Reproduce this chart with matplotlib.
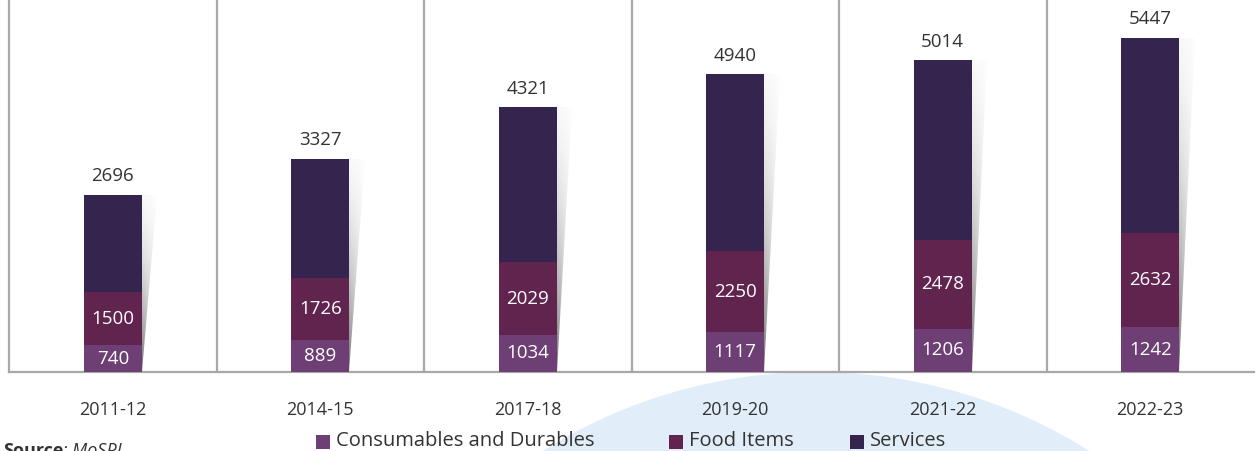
import numpy as np
import matplotlib.pyplot as plt
from matplotlib.patches import Polygon, Rectangle, Ellipse

plt.rcParams['font.family'] = ['Open Sans', 'DejaVu Sans']

# Data (average monthly per capita spending)
years = ['2011-12', '2014-15', '2017-18', '2019-20', '2021-22', '2022-23']
consumables = [740, 889, 1034, 1117, 1206, 1242]
food = [1500, 1726, 2029, 2250, 2478, 2632]
services = [2696, 3327, 4321, 4940, 5014, 5447]
series_names = ['Consumables and Durables', 'Food Items', 'Services']

# Colours
c_cons = '#6e3f74'
c_food = '#61244f'
c_serv = '#35244d'
txt = '#333333'

W, H = 1256, 451
fig = plt.figure(figsize=(W / 100, H / 100), dpi=100)

# faint watermark disc behind the chart (pixel centre 816,885 r=513)
wm = Ellipse((816 / W, 1 - 885 / H), 2 * 513 / W, 2 * 513 / H,
             transform=fig.transFigure, facecolor='#e1edf8',
             edgecolor='none', zorder=0)
fig.patches.append(wm)

ax = fig.add_axes([9 / W, 79 / H, 1245 / W, 372 / H])
ax.set_facecolor('none')
ax.set_zorder(1)

x = np.arange(len(years))
bw = 0.28
cons = np.array(consumables)
fd = np.array(food)
sv = np.array(services)

ax.bar(x, cons, bw, color=c_cons, zorder=3)
ax.bar(x, fd, bw, bottom=cons, color=c_food, zorder=3)
ax.bar(x, sv, bw, bottom=cons + fd, color=c_serv, zorder=3)

# shadow wedge to the right of each bar
ny, nx = 200, 20
shade = np.zeros((ny, nx, 4))
gy = np.linspace(0, 1, ny)
gx = np.linspace(0, 1, nx)
for i in range(ny):
    shade[i, :, 0:3] = 0.40 + 0.5 * gy[i]
    shade[i, :, 3] = (0.9 - 0.65 * gy[i]) * (1 - 0.7 * gx)
dx = 0.075
for i in range(len(years)):
    xr = x[i] + bw / 2
    top = cons[i] + fd[i] + sv[i]
    tri = Polygon([(xr, 0), (xr, top), (xr + dx, top)], closed=True,
                  transform=ax.transData, facecolor='none', edgecolor='none')
    ax.add_patch(tri)
    im = ax.imshow(shade, extent=(xr, xr + dx, 0, top), origin='lower',
                   aspect='auto', zorder=2, interpolation='bilinear')
    im.set_clip_path(tri)

ax.set_xlim(-0.5, len(years) - 0.5)
ax.set_ylim(0, 10380)

# value labels
for i in range(len(years)):
    ax.text(x[i], cons[i] / 2, str(consumables[i]), ha='center', va='center',
            color='white', fontsize=13.5, zorder=4)
    ax.text(x[i], cons[i] + fd[i] / 2, str(food[i]), ha='center', va='center',
            color='white', fontsize=13.5, zorder=4)
    ax.annotate(str(services[i]), (x[i], cons[i] + fd[i] + sv[i]),
                xytext=(0, 7), textcoords='offset points', ha='center',
                va='bottom', color=txt, fontsize=13.5, zorder=4)

# separators
for b in np.arange(0.5, len(years) - 1, 1.0):
    ax.axvline(b, color='#a8a8a8', lw=1.6, zorder=1)

for s in ['top', 'right']:
    ax.spines[s].set_visible(False)
ax.spines['left'].set_color('#a8a8a8')
ax.spines['left'].set_linewidth(1.6)
ax.spines['bottom'].set_color('#a8a8a8')
ax.spines['bottom'].set_linewidth(1.6)

ax.set_xticks(x)
ax.set_xticklabels(years, color=txt, fontsize=13)
ax.tick_params(axis='x', length=0, pad=21)
ax.set_yticks([])

# legend
leg_x = [316, 669, 850]
cols = [c_cons, c_food, c_serv]
ly = 442
for lx, c, name in zip(leg_x, cols, series_names):
    fig.patches.append(Rectangle((lx / W, 1 - (ly + 7) / H), 14 / W, 14 / H,
                                 transform=fig.transFigure, facecolor=c,
                                 edgecolor='none', zorder=3))
    fig.text((lx + 20) / W, 1 - (ly - 1) / H, name, ha='left', va='center',
             fontsize=14.5, color=txt, zorder=3)

# source (cut off at the bottom edge, as in the original)
src = fig.text(3 / W, -5 / H, 'Source', fontweight='bold', fontsize=13,
               color=txt, ha='left', va='baseline')
fig.canvas.draw()
bb = src.get_window_extent()
fig.text(bb.x1 / W, -5 / H, ': MoSPI', fontstyle='italic', fontsize=13,
         color=txt, ha='left', va='baseline')

fig.savefig('out.png', dpi=100)
